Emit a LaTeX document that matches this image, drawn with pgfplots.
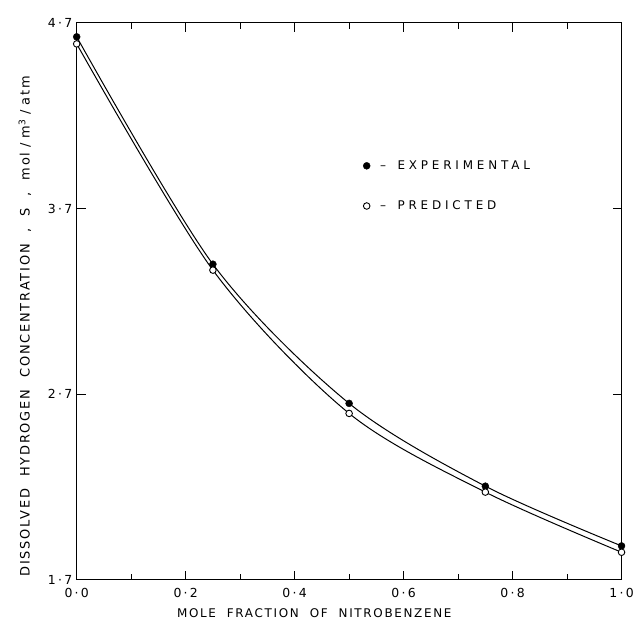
\documentclass[border=0pt]{standalone}
\usepackage{fontspec}
\setmainfont{DejaVu Sans}
\usepackage{pgfplots}
\pgfplotsset{compat=1.18}

\newfontfamily\spaced[LetterSpace=14,WordSpace=2]{DejaVu Sans}
\newfontfamily\legspaced[LetterSpace=32,WordSpace=1.5]{DejaVu Sans}
\newfontfamily\ticksfont[LetterSpace=18]{DejaVu Sans}

\begin{document}
\begin{tikzpicture}
\begin{axis}[
    scale only axis,
    width=547pt,
    height=559pt,
    xmin=0, xmax=1,
    ymin=1.7, ymax=4.7,
    xtick={0,0.2,0.4,0.6,0.8,1},
    xticklabels={0·0,0·2,0·4,0·6,0·8,1·0},
    minor xtick={0.1,0.3,0.5,0.7,0.9},
    ytick={1.7,2.7,3.7,4.7},
    yticklabels={1·7,2·7,3·7,4·7},
    tick align=inside,
    major tick length=9pt,
    minor tick length=6pt,
    axis line style={line width=1pt},
    every tick/.style={black, line width=0.9pt},
    tick label style={font=\ticksfont\fontsize{12.5}{14}\selectfont},
    xticklabel style={yshift=-5pt},
    yticklabel style={xshift=-1pt},
    xlabel={\spaced MOLE FRACTION OF NITROBENZENE},
    ylabel={\spaced DISSOLVED HYDROGEN CONCENTRATION , S , mol\hspace{5pt}/\hspace{5pt}m\textsuperscript{3}\hspace{5pt}/\hspace{5pt}atm},
    xlabel style={font=\fontsize{12}{14}\selectfont, yshift=-4pt, xshift=-35pt},
    ylabel style={font=\fontsize{13}{15}\selectfont, yshift=10pt, xshift=-25pt},
    legend style={draw=none, fill=none, at={(0.52,0.76)}, anchor=north west,
        font=\legspaced\fontsize{12}{14}\selectfont, row sep=26pt},
    legend cell align=left,
]
% smooth curves
\addplot[black, line width=1pt, smooth, forget plot] coordinates {
    (0,4.625) (0.25,3.40) (0.5,2.65) (0.75,2.204) (1.0,1.882)};
\addplot[black, line width=1pt, smooth, forget plot] coordinates {
    (0,4.587) (0.25,3.368) (0.5,2.596) (0.75,2.172) (1.0,1.848)};
% points
\addplot[only marks, mark=*, mark size=3.5pt, black] coordinates {
    (0,4.625) (0.25,3.40) (0.5,2.65) (0.75,2.204) (1.0,1.882)};
\addlegendentry{\hspace{8pt}– EXPERIMENTAL}
\addplot[only marks, mark=*, mark size=3.3pt, black, mark options={fill=white, line width=0.9pt}] coordinates {
    (0,4.587) (0.25,3.368) (0.5,2.596) (0.75,2.172) (1.0,1.848)};
\addlegendentry{\hspace{8pt}– PREDICTED}
\end{axis}
\path (current axis.south west) ++(-77pt,-45pt) rectangle ++(637pt,627pt);
\end{tikzpicture}
\end{document}
